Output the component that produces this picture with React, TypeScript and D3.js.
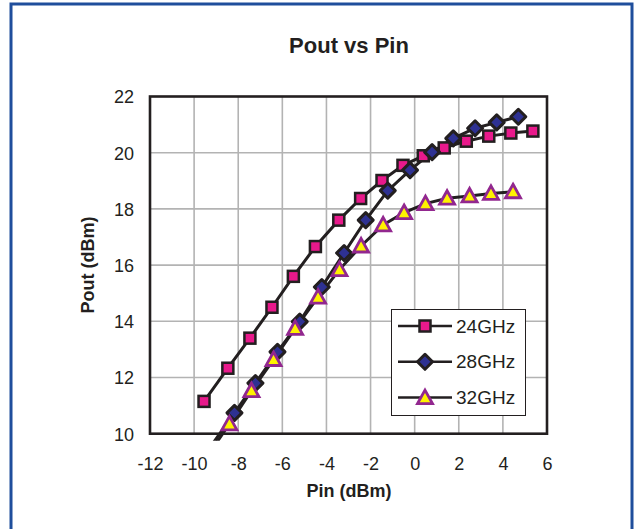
import { useEffect, useRef } from "react"
import * as d3 from "d3"

const pin24 = [-9.55, -8.47, -7.47, -6.47, -5.5, -4.5, -3.44, -2.45, -1.48, -0.53, 0.39, 1.34, 2.34, 3.36, 4.36, 5.36]
const pout24 = [11.15, 12.33, 13.4, 14.5, 15.6, 16.66, 17.6, 18.37, 19.01, 19.55, 19.89, 20.17, 20.41, 20.59, 20.7, 20.77]

const pin28 = [-9.2, -8.17, -7.22, -6.22, -5.21, -4.21, -3.2, -2.22, -1.22, -0.21, 0.79, 1.75, 2.74, 3.72, 4.7]
const pout28 = [9.6, 10.74, 11.8, 12.91, 13.99, 15.22, 16.43, 17.6, 18.65, 19.38, 20.02, 20.51, 20.87, 21.08, 21.28]

const pin32 = [-9.4, -8.4, -7.4, -6.4, -5.42, -4.38, -3.41, -2.43, -1.43, -0.48, 0.49, 1.47, 2.49, 3.46, 4.46]
const pout32 = [9.2, 10.35, 11.53, 12.64, 13.75, 14.86, 15.84, 16.68, 17.43, 17.87, 18.19, 18.38, 18.46, 18.55, 18.61]

const seriesNames = ["24GHz", "28GHz", "32GHz"]
const xTicks = [-12, -10, -8, -6, -4, -2, 0, 2, 4, 6]
const yTicks = [10, 12, 14, 16, 18, 20, 22]

const W = 636
const H = 529
const plot = { left: 150, right: 547, top: 96.5, bottom: 433.7 }
const font = "Liberation Sans, Arial, sans-serif"

function drawMarker(g, kind, x, y) {
	if (kind === 0) {
		g.append("rect")
			.attr("x", x - 5.5)
			.attr("y", y - 5.5)
			.attr("width", 11)
			.attr("height", 11)
			.attr("fill", "#e8198b")
			.attr("stroke", "#231f20")
			.attr("stroke-width", 2.5)
	} else if (kind === 1) {
		const s = 7.5
		g.append("path")
			.attr("d", `M${x},${y - s}L${x + s},${y}L${x},${y + s}L${x - s},${y}Z`)
			.attr("fill", "#2e3192")
			.attr("stroke", "#231f20")
			.attr("stroke-width", 3)
			.attr("stroke-linejoin", "round")
	} else {
		g.append("path")
			.attr("d", `M${x},${y - 7.5}L${x + 7.5},${y + 6}L${x - 7.5},${y + 6}Z`)
			.attr("fill", "#fff200")
			.attr("stroke", "#92278f")
			.attr("stroke-width", 2.8)
	}
}

function App() {
	const ref = useRef()

	useEffect(() => {
		const svg = d3.select(ref.current)
		svg.selectAll("*").remove()

		const x = d3.scaleLinear().domain([-12, 6]).range([plot.left, plot.right])
		const y = d3.scaleLinear().domain([10, 22]).range([plot.bottom, plot.top])

		// outer frame
		svg.append("rect")
			.attr("x", 11)
			.attr("y", 4)
			.attr("width", 621)
			.attr("height", 540)
			.attr("fill", "#fff")
			.attr("stroke", "#1f4e9c")
			.attr("stroke-width", 3)

		svg.append("text")
			.attr("x", 349)
			.attr("y", 53)
			.attr("text-anchor", "middle")
			.attr("font-family", font)
			.attr("font-weight", "bold")
			.attr("font-size", 22)
			.attr("fill", "#231f20")
			.text("Pout vs Pin")

		// grid
		const grid = svg.append("g").attr("stroke", "#b3b3b3").attr("stroke-width", 1.6)
		xTicks.slice(1, -1).forEach((t) => {
			grid.append("line").attr("x1", x(t)).attr("x2", x(t)).attr("y1", plot.top).attr("y2", plot.bottom)
		})
		yTicks.slice(1, -1).forEach((t) => {
			grid.append("line").attr("x1", plot.left).attr("x2", plot.right).attr("y1", y(t)).attr("y2", y(t))
		})

		svg.append("defs")
			.append("clipPath")
			.attr("id", "plotclip")
			.append("rect")
			.attr("x", plot.left)
			.attr("y", plot.top - 10)
			.attr("width", plot.right - plot.left)
			.attr("height", plot.bottom - plot.top + 17)

		const data = [
			pin24.map((p, i) => [p, pout24[i]]),
			pin28.map((p, i) => [p, pout28[i]]),
			pin32.map((p, i) => [p, pout32[i]]),
		]

		const line = d3.line().x((d) => x(d[0])).y((d) => y(d[1]))
		const series = svg.append("g").attr("clip-path", "url(#plotclip)")

		data.forEach((pts) => {
			series.append("path")
				.attr("d", line(pts))
				.attr("fill", "none")
				.attr("stroke", "#231f20")
				.attr("stroke-width", 3)
		})

		// plot border
		svg.append("rect")
			.attr("x", plot.left)
			.attr("y", plot.top)
			.attr("width", plot.right - plot.left)
			.attr("height", plot.bottom - plot.top)
			.attr("fill", "none")
			.attr("stroke", "#231f20")
			.attr("stroke-width", 2.6)

		data.forEach((pts, k) => {
			pts.forEach((d) => {
				if (d[1] >= 10) drawMarker(series, k, x(d[0]), y(d[1]))
			})
		})

		// tick labels
		const xAxis = svg.append("g")
			.attr("transform", `translate(0,${plot.bottom + 36})`)
			.call(d3.axisBottom(x).tickValues(xTicks).tickFormat((d) => String(d)).tickSize(0).tickPadding(0))
		xAxis.select(".domain").remove()
		xAxis.selectAll("text")
			.attr("dy", 0)
			.attr("y", 0)
			.attr("font-family", font)
			.attr("font-size", 18)
			.attr("fill", "#231f20")

		const yAxis = svg.append("g")
			.attr("transform", `translate(${plot.left - 16},0)`)
			.call(d3.axisLeft(y).tickValues(yTicks).tickFormat((d) => String(d)).tickSize(0).tickPadding(0))
		yAxis.select(".domain").remove()
		yAxis.selectAll("text")
			.attr("dy", "0.35em")
			.attr("font-family", font)
			.attr("font-size", 18)
			.attr("fill", "#231f20")

		svg.append("text")
			.attr("x", 349)
			.attr("y", 497)
			.attr("text-anchor", "middle")
			.attr("font-family", font)
			.attr("font-weight", "bold")
			.attr("font-size", 18)
			.attr("fill", "#231f20")
			.text("Pin (dBm)")

		svg.append("text")
			.attr("transform", `translate(94,${(plot.top + plot.bottom) / 2}) rotate(-90)`)
			.attr("text-anchor", "middle")
			.attr("font-family", font)
			.attr("font-weight", "bold")
			.attr("font-size", 18)
			.attr("fill", "#231f20")
			.text("Pout (dBm)")

		// legend
		const legend = svg.append("g")
		legend.append("rect")
			.attr("x", 391.5)
			.attr("y", 309.5)
			.attr("width", 134)
			.attr("height", 106)
			.attr("fill", "#fff")
			.attr("stroke", "#231f20")
			.attr("stroke-width", 1)
		seriesNames.forEach((name, k) => {
			const ly = 326 + k * 35.8
			legend.append("line")
				.attr("x1", 398)
				.attr("x2", 452)
				.attr("y1", ly)
				.attr("y2", ly)
				.attr("stroke", "#231f20")
				.attr("stroke-width", 2.5)
			drawMarker(legend, k, 425, ly)
			legend.append("text")
				.attr("x", 456)
				.attr("y", ly)
				.attr("dy", "0.35em")
				.attr("font-family", font)
				.attr("font-size", 19)
				.attr("fill", "#231f20")
				.text(name)
		})
	}, [])

	return (
		<svg
			ref={ref}
			width={W}
			height={H}
			style={{ position: "absolute", left: 0, top: 0, background: "#fff" }}
		></svg>
	)
}

export default App
